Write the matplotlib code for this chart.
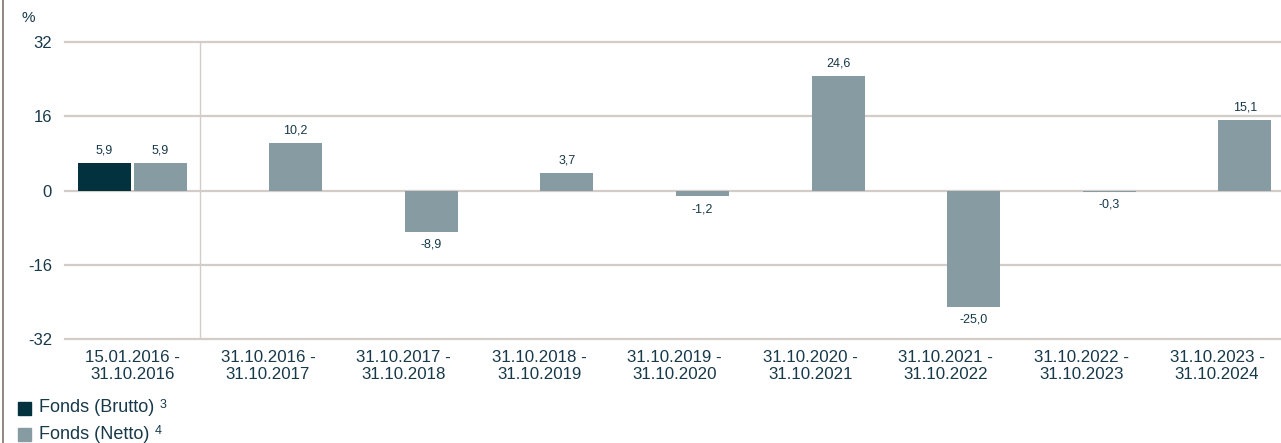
import matplotlib
matplotlib.use("Agg")
import matplotlib.pyplot as plt
from matplotlib.patches import Rectangle
from matplotlib.lines import Line2D
import numpy as np

plt.rcParams['font.family'] = ['Liberation Sans', 'DejaVu Sans']

categories = ["15.01.2016 -\n31.10.2016", "31.10.2016 -\n31.10.2017", "31.10.2017 -\n31.10.2018",
              "31.10.2018 -\n31.10.2019", "31.10.2019 -\n31.10.2020", "31.10.2020 -\n31.10.2021",
              "31.10.2021 -\n31.10.2022", "31.10.2022 -\n31.10.2023", "31.10.2023 -\n31.10.2024"]
brutto = [5.9, None, None, None, None, None, None, None, None]
netto = [5.9, 10.2, -8.9, 3.7, -1.2, 24.6, -25.0, -0.3, 15.1]
yticks = [-32, -16, 0, 16, 32]
series_names = ["Fonds (Brutto)", "Fonds (Netto)"]
series_notes = ["3", "4"]

C_BRUTTO = "#03323f"
C_NETTO = "#869ca2"
C_TEXT = "#17394a"
C_GRID = "#d2cdc8"

W, H = 1281, 443
fig = plt.figure(figsize=(W / 100, H / 100), dpi=100)
left_px, right_px = 64.5, 1284.9
top_px, bot_px = 42, 339
ax = fig.add_axes([left_px / W, 1 - bot_px / H, (right_px - left_px) / W, (bot_px - top_px) / H])
ax.set_xlim(-0.5, len(categories) - 0.5)
ax.set_ylim(-32, 32)

for s in ax.spines.values():
    s.set_visible(False)

for yv in yticks:
    ax.axhline(yv, color=C_GRID, lw=1.6, zorder=1, clip_on=False)
ax.axvline(0.5, color=C_GRID, lw=1.0, zorder=1)

x = np.arange(len(categories))
bw = 0.39
off = 0.205
for i, v in enumerate(brutto):
    if v is None:
        continue
    ax.bar(x[i] - off, v, width=bw, color=C_BRUTTO, zorder=2)
    ax.annotate(f"{v:.1f}".replace(".", ","), (x[i] - off, v), xytext=(0, 5 if v >= 0 else -5),
                textcoords="offset points", ha="center", va="bottom" if v >= 0 else "top",
                fontsize=9, color=C_TEXT)
for i, v in enumerate(netto):
    ax.bar(x[i] + off, v, width=bw, color=C_NETTO, zorder=2)
    ax.annotate(f"{v:.1f}".replace(".", ","), (x[i] + off, v), xytext=(0, 5 if v >= 0 else -5),
                textcoords="offset points", ha="center", va="bottom" if v >= 0 else "top",
                fontsize=9, color=C_TEXT)

ax.set_xticks(x)
ax.set_xticklabels(categories, fontsize=12.2, color=C_TEXT, linespacing=1.15)
ax.set_yticks(yticks)
ax.set_yticklabels([str(t) for t in yticks], fontsize=12, color=C_TEXT)
ax.tick_params(axis="both", length=0)
ax.tick_params(axis="x", pad=8)
ax.tick_params(axis="y", pad=9)

fig.text(21 / W, 1 - 18 / H, "%", fontsize=11, color=C_TEXT, ha="left", va="center")

# left border
fig.add_artist(Line2D([2.5 / W, 2.5 / W], [0, 1], color="#7d736b", lw=1.2))

# legend
colors = [C_BRUTTO, C_NETTO]
for k, (name, note) in enumerate(zip(series_names, series_notes)):
    yc = 408 + 26.5 * k
    fig.add_artist(Rectangle((17.7 / W, 1 - (yc + 6.5) / H), 13 / W, 13 / H,
                             transform=fig.transFigure, color=colors[k]))
    t = fig.text(39 / W, 1 - yc / H, name, fontsize=13, color=C_TEXT, ha="left", va="center")
    fig.canvas.draw()
    bb = t.get_window_extent()
    fig.text((bb.x1 + 5) / W, 1 - (yc - 3) / H, note, fontsize=9, color=C_TEXT,
             ha="left", va="center")

fig.savefig("out.png", dpi=100)
